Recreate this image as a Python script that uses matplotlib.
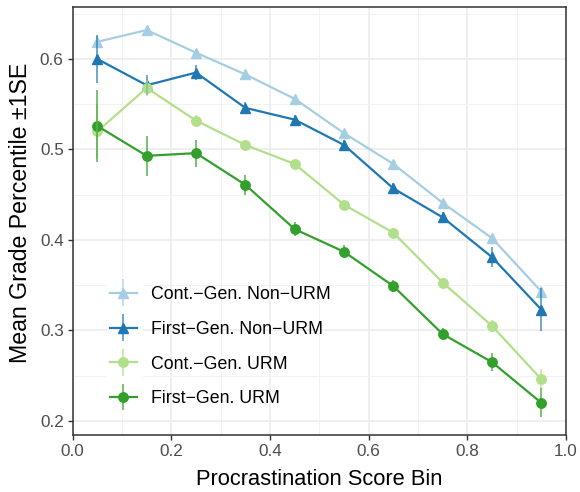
import matplotlib
matplotlib.use("Agg")
import matplotlib.pyplot as plt
from matplotlib.patches import Rectangle
from matplotlib.legend_handler import HandlerErrorbar

plt.rcParams['font.family'] = ['Liberation Sans', 'DejaVu Sans']

bins = [0.05, 0.15, 0.25, 0.35, 0.45, 0.55, 0.65, 0.75, 0.85, 0.95]
groups = ["Cont.\u2212Gen. Non\u2212URM", "First\u2212Gen. Non\u2212URM",
          "Cont.\u2212Gen. URM", "First\u2212Gen. URM"]
cont_nonurm = [0.619, 0.632, 0.607, 0.583, 0.556, 0.518, 0.484, 0.441, 0.402, 0.343]
cont_nonurm_se = [0.006, 0.004, 0.004, 0.003, 0.003, 0.003, 0.003, 0.004, 0.004, 0.006]
first_nonurm = [0.600, 0.571, 0.585, 0.546, 0.533, 0.505, 0.457, 0.425, 0.381, 0.323]
first_nonurm_se = [0.027, 0.011, 0.008, 0.006, 0.005, 0.005, 0.006, 0.006, 0.011, 0.024]
cont_urm = [0.520, 0.568, 0.532, 0.505, 0.484, 0.439, 0.408, 0.353, 0.305, 0.246]
cont_urm_se = [0.030, 0.009, 0.006, 0.005, 0.004, 0.004, 0.005, 0.005, 0.007, 0.011]
first_urm = [0.526, 0.493, 0.496, 0.461, 0.412, 0.387, 0.349, 0.296, 0.265, 0.220]
first_urm_se = [0.040, 0.022, 0.015, 0.011, 0.008, 0.007, 0.007, 0.007, 0.010, 0.016]

colors = ["#A6CEE3", "#1F78B4", "#B2DF8A", "#33A02C"]
markers = ["^", "^", "o", "o"]
msizes = [7.8, 7.8, 6.8, 6.8]
series = [(cont_nonurm, cont_nonurm_se), (first_nonurm, first_nonurm_se),
          (cont_urm, cont_urm_se), (first_urm, first_urm_se)]

W, H = 580, 492
fig = plt.figure(figsize=(W / 100, H / 100), dpi=100)
ax = fig.add_axes([0.1253, 0.1159, 0.8506, 0.8699])

handles = []
for i, ((vals, se), c, m, ms, lab) in enumerate(zip(series, colors, markers, msizes, groups)):
    eb = ax.errorbar(bins, vals, yerr=se, fmt='-', marker=m, ms=ms, color=c,
                     lw=1.6, elinewidth=1.4, capsize=0, label=lab)
    eb.lines[0].set_zorder(3 + i * 0.01)
    for bc in eb.lines[2]:
        bc.set_alpha(0.65)
        bc.set_zorder(4 + i * 0.01)
    handles.append(eb)

ax.set_xlim(0, 1)
ax.set_ylim(0.1845, 0.6575)
ax.set_xticks([0, 0.2, 0.4, 0.6, 0.8, 1.0])
ax.set_xticklabels(["0.0", "0.2", "0.4", "0.6", "0.8", "1.0"])
ax.set_yticks([0.2, 0.3, 0.4, 0.5, 0.6])
ax.set_yticklabels(["0.2", "0.3", "0.4", "0.5", "0.6"])
ax.set_xticks([0.1, 0.3, 0.5, 0.7, 0.9], minor=True)
ax.set_yticks([0.25, 0.35, 0.45, 0.55, 0.65], minor=True)
ax.grid(True, which='major', color='#EBEBEB', lw=1.1)
ax.grid(True, which='minor', color='#F2F2F2', lw=0.7)
ax.set_axisbelow(True)
ax.tick_params(which='major', length=3.5, width=1.0, color='#333333',
               labelsize=12.3, labelcolor='#4D4D4D', pad=3)
ax.tick_params(which='minor', length=0)
for s in ax.spines.values():
    s.set_color('#333333')
    s.set_linewidth(1.1)

xl = ax.set_xlabel("Procrastination Score Bin", fontsize=15.8)
yl = ax.set_ylabel("Mean Grade Percentile \u00b11SE", fontsize=15.8)

# fit label sizes to the reference extents (in pixels)
fig.canvas.draw()
r = fig.canvas.get_renderer()
wx = xl.get_window_extent(r).width
xl.set_fontsize(15.8 * 247.0 / wx)
hy = yl.get_window_extent(r).height
yl.set_fontsize(15.8 * 301.0 / hy)

# positions: x label baseline at y=485 px; y label baseline at x=27 px, centred at y=212.5 px
ax_l, ax_b, ax_w, ax_h = 0.1253 * W, 0.1159 * H, 0.8506 * W, 0.8699 * H
xl.set_verticalalignment('baseline')
ax.xaxis.set_label_coords(0.5, ((H - 485) - ax_b) / ax_h)
yl.set_verticalalignment('baseline')
ax.yaxis.set_label_coords((27 - ax_l) / ax_w, ((H - 212.5) - ax_b) / ax_h)

# legend keys background (white, like ggplot legend.key)
ax.add_patch(Rectangle((0.0695, 0.2078), 0.0730, 0.1507, facecolor='white',
                       edgecolor='none', zorder=1.5, transform=ax.transData))

leg = ax.legend(handles=handles, labels=groups, loc='upper left',
                bbox_to_anchor=(0.075, 0.348), frameon=False, fontsize=12.8,
                handlelength=1.55, handletextpad=0.8, labelspacing=1.0,
                borderpad=0, borderaxespad=0, numpoints=1,
                handler_map={type(handles[0]): HandlerErrorbar(xerr_size=0.5, yerr_size=0.75)})

fig.savefig("out.png", dpi=100)
